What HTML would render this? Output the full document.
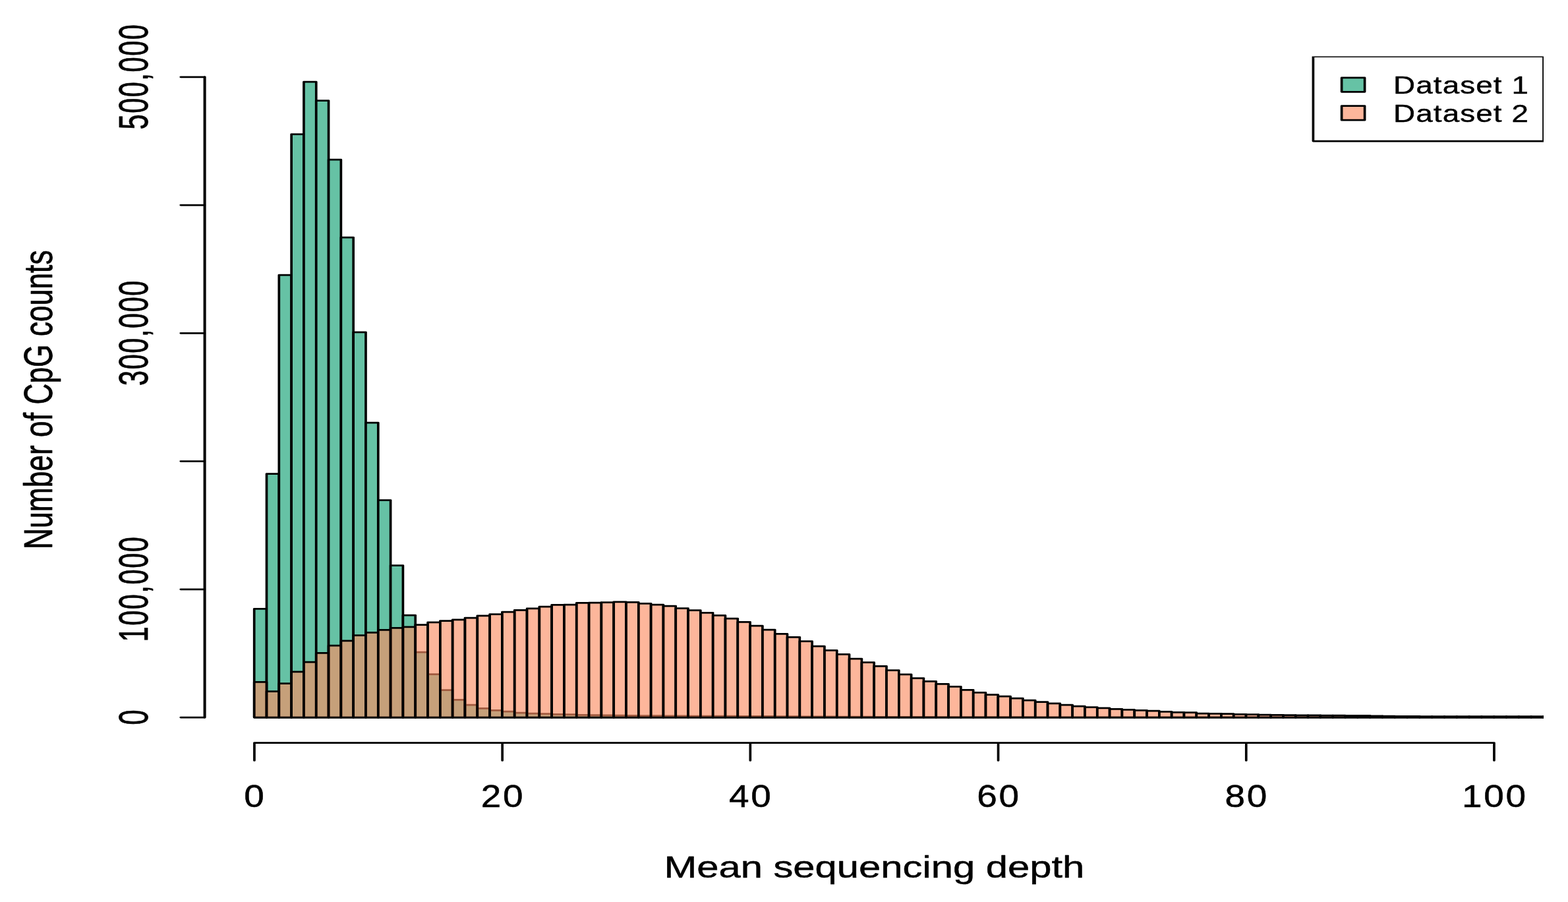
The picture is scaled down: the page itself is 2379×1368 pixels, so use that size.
<!DOCTYPE html>
<html lang="en"><head><meta charset="utf-8">
<title>Mean sequencing depth histogram</title>
<style>
html,body{margin:0;padding:0;background:#fff;}
body{width:2379px;height:1368px;overflow:hidden;}
svg{display:block;filter:blur(0.35px);}
text{font-family:"Liberation Sans",Arial,Helvetica,sans-serif;font-size:48px;fill:#000;stroke:#000;stroke-width:0.5px;stroke-linejoin:round;}
text.v{stroke-width:0.6px;}
text.l{stroke-width:0.55px;}
.ln{fill:none;stroke:#000;stroke-width:2.75;stroke-linecap:round;stroke-linejoin:round;}
.g rect{fill:#66C2A5;stroke:#000;stroke-width:2.75;stroke-linejoin:round;}
.o rect{fill:#FC8D62;fill-opacity:0.64;stroke:#000;stroke-width:2.75;stroke-linejoin:round;}
</style></head><body>
<svg width="2379" height="1368" viewBox="0 0 2379 1368" role="img" aria-label="Histogram of mean sequencing depth for Dataset 1 and Dataset 2">
<rect width="2379" height="1368" fill="#fff"/>
<defs><clipPath id="plot"><rect x="231.64" y="85.5" width="1516.12" height="1041"/></clipPath></defs>
<g transform="scale(1.34,1)">
<g class="g" clip-path="url(#plot)">
<rect x="287.84" y="923.4" width="14.04" height="164.6"/>
<rect x="301.87" y="718.5" width="14.04" height="369.5"/>
<rect x="315.91" y="417.2" width="14.04" height="670.8"/>
<rect x="329.95" y="203.5" width="14.04" height="884.5"/>
<rect x="343.99" y="124.2" width="14.04" height="963.8"/>
<rect x="358.02" y="152.5" width="14.04" height="935.5"/>
<rect x="372.06" y="242.2" width="14.04" height="845.8"/>
<rect x="386.1" y="360" width="14.04" height="728"/>
<rect x="400.13" y="503.8" width="14.04" height="584.2"/>
<rect x="414.17" y="641.1" width="14.04" height="446.9"/>
<rect x="428.21" y="758.6" width="14.04" height="329.4"/>
<rect x="442.25" y="857.6" width="14.04" height="230.4"/>
<rect x="456.28" y="933" width="14.04" height="155"/>
<rect x="470.32" y="989.1" width="14.04" height="98.9"/>
<rect x="484.36" y="1022.5" width="14.04" height="65.5"/>
<rect x="498.4" y="1046.7" width="14.04" height="41.3"/>
<rect x="512.43" y="1061.4" width="14.04" height="26.6"/>
<rect x="526.47" y="1069.1" width="14.04" height="18.9"/>
<rect x="540.51" y="1074.4" width="14.04" height="13.6"/>
<rect x="554.54" y="1077.3" width="14.04" height="10.7"/>
<rect x="568.58" y="1079.2" width="14.04" height="8.8"/>
<rect x="582.62" y="1081.1" width="14.04" height="6.9"/>
<rect x="596.66" y="1082" width="14.04" height="6"/>
<rect x="610.69" y="1082.6" width="14.04" height="5.4"/>
<rect x="624.73" y="1083.3" width="14.04" height="4.7"/>
<rect x="638.77" y="1083.6" width="14.04" height="4.4"/>
<rect x="652.81" y="1084.3" width="14.04" height="3.7"/>
<rect x="666.84" y="1084.6" width="14.04" height="3.4"/>
<rect x="680.88" y="1084.9" width="14.04" height="3.1"/>
<rect x="694.92" y="1085.1" width="14.04" height="2.9"/>
<rect x="708.96" y="1085.3" width="14.04" height="2.7"/>
<rect x="722.99" y="1085.5" width="14.04" height="2.5"/>
<rect x="737.03" y="1085.65" width="14.04" height="2.35"/>
<rect x="751.07" y="1085.8" width="14.04" height="2.2"/>
<rect x="765.1" y="1085.9" width="14.04" height="2.1"/>
<rect x="779.14" y="1086" width="14.04" height="2"/>
<rect x="793.18" y="1086.1" width="14.04" height="1.9"/>
<rect x="807.22" y="1086.15" width="14.04" height="1.85"/>
<rect x="821.25" y="1086.2" width="14.04" height="1.8"/>
<rect x="835.29" y="1086.25" width="14.04" height="1.75"/>
<rect x="849.33" y="1086.3" width="14.04" height="1.7"/>
<rect x="863.37" y="1086.44" width="14.04" height="1.56"/>
<rect x="877.4" y="1086.56" width="14.04" height="1.44"/>
<rect x="891.44" y="1086.68" width="14.04" height="1.32"/>
<rect x="905.48" y="1086.78" width="14.04" height="1.22"/>
<rect x="919.51" y="1086.88" width="14.04" height="1.12"/>
<rect x="933.55" y="1086.97" width="14.04" height="1.03"/>
<rect x="947.59" y="1087.05" width="14.04" height="0.95"/>
<rect x="961.63" y="1087.13" width="14.04" height="0.87"/>
<rect x="975.66" y="1087.2" width="14.04" height="0.8"/>
<rect x="989.7" y="1087.26" width="14.04" height="0.74"/>
<rect x="1003.74" y="1087.32" width="14.04" height="0.68"/>
<rect x="1017.78" y="1087.37" width="14.04" height="0.63"/>
<rect x="1031.81" y="1087.42" width="14.04" height="0.58"/>
<rect x="1045.85" y="1087.47" width="14.04" height="0.53"/>
<rect x="1059.89" y="1087.51" width="14.04" height="0.49"/>
<rect x="1073.93" y="1087.55" width="14.04" height="0.45"/>
<rect x="1087.96" y="1087.59" width="14.04" height="0.41"/>
<rect x="1102" y="1087.62" width="14.04" height="0.38"/>
<rect x="1116.04" y="1087.65" width="14.04" height="0.35"/>
<rect x="1130.07" y="1087.68" width="14.04" height="0.32"/>
<rect x="1144.11" y="1087.7" width="14.04" height="0.3"/>
<rect x="1158.15" y="1087.73" width="14.04" height="0.27"/>
<rect x="1172.19" y="1087.75" width="14.04" height="0.25"/>
<rect x="1186.22" y="1087.77" width="14.04" height="0.23"/>
<rect x="1200.26" y="1087.79" width="14.04" height="0.21"/>
<rect x="1214.3" y="1087.81" width="14.04" height="0.19"/>
<rect x="1228.34" y="1087.82" width="14.04" height="0.18"/>
<rect x="1242.37" y="1087.84" width="14.04" height="0.16"/>
<rect x="1256.41" y="1087.85" width="14.04" height="0.15"/>
<rect x="1270.45" y="1087.85" width="14.04" height="0.15"/>
<rect x="1284.49" y="1087.85" width="14.04" height="0.15"/>
<rect x="1298.52" y="1087.85" width="14.04" height="0.15"/>
<rect x="1312.56" y="1087.85" width="14.04" height="0.15"/>
<rect x="1326.6" y="1087.85" width="14.04" height="0.15"/>
<rect x="1340.63" y="1087.85" width="14.04" height="0.15"/>
<rect x="1354.67" y="1087.85" width="14.04" height="0.15"/>
<rect x="1368.71" y="1087.85" width="14.04" height="0.15"/>
<rect x="1382.75" y="1087.85" width="14.04" height="0.15"/>
<rect x="1396.78" y="1087.85" width="14.04" height="0.15"/>
<rect x="1410.82" y="1087.85" width="14.04" height="0.15"/>
<rect x="1424.86" y="1087.85" width="14.04" height="0.15"/>
<rect x="1438.9" y="1087.85" width="14.04" height="0.15"/>
<rect x="1452.93" y="1087.85" width="14.04" height="0.15"/>
<rect x="1466.97" y="1087.85" width="14.04" height="0.15"/>
<rect x="1481.01" y="1087.85" width="14.04" height="0.15"/>
<rect x="1495.04" y="1087.85" width="14.04" height="0.15"/>
<rect x="1509.08" y="1087.85" width="14.04" height="0.15"/>
<rect x="1523.12" y="1087.85" width="14.04" height="0.15"/>
<rect x="1537.16" y="1087.85" width="14.04" height="0.15"/>
<rect x="1551.19" y="1087.85" width="14.04" height="0.15"/>
<rect x="1565.23" y="1087.85" width="14.04" height="0.15"/>
<rect x="1579.27" y="1087.85" width="14.04" height="0.15"/>
<rect x="1593.31" y="1087.85" width="14.04" height="0.15"/>
<rect x="1607.34" y="1087.85" width="14.04" height="0.15"/>
<rect x="1621.38" y="1087.85" width="14.04" height="0.15"/>
<rect x="1635.42" y="1087.85" width="14.04" height="0.15"/>
<rect x="1649.46" y="1087.85" width="14.04" height="0.15"/>
<rect x="1663.49" y="1087.85" width="14.04" height="0.15"/>
<rect x="1677.53" y="1087.85" width="14.04" height="0.15"/>
<rect x="1691.57" y="1087.85" width="14.04" height="0.15"/>
<rect x="1705.6" y="1087.85" width="14.04" height="0.15"/>
<rect x="1719.64" y="1087.85" width="14.04" height="0.15"/>
<rect x="1733.68" y="1087.85" width="14.04" height="0.15"/>
<rect x="1747.72" y="1087.85" width="14.04" height="0.15"/>
</g>
<g class="o" clip-path="url(#plot)">
<rect x="287.84" y="1034.4" width="14.04" height="53.6"/>
<rect x="301.87" y="1048.5" width="14.04" height="39.5"/>
<rect x="315.91" y="1036.6" width="14.04" height="51.4"/>
<rect x="329.95" y="1018.9" width="14.04" height="69.1"/>
<rect x="343.99" y="1004" width="14.04" height="84"/>
<rect x="358.02" y="990.4" width="14.04" height="97.6"/>
<rect x="372.06" y="979.2" width="14.04" height="108.8"/>
<rect x="386.1" y="971.9" width="14.04" height="116.1"/>
<rect x="400.13" y="963.6" width="14.04" height="124.4"/>
<rect x="414.17" y="959.4" width="14.04" height="128.6"/>
<rect x="428.21" y="955.3" width="14.04" height="132.7"/>
<rect x="442.25" y="952.3" width="14.04" height="135.7"/>
<rect x="456.28" y="950.9" width="14.04" height="137.1"/>
<rect x="470.32" y="947.5" width="14.04" height="140.5"/>
<rect x="484.36" y="943.9" width="14.04" height="144.1"/>
<rect x="498.4" y="941.6" width="14.04" height="146.4"/>
<rect x="512.43" y="939.9" width="14.04" height="148.1"/>
<rect x="526.47" y="937" width="14.04" height="151"/>
<rect x="540.51" y="933.8" width="14.04" height="154.2"/>
<rect x="554.54" y="931.6" width="14.04" height="156.4"/>
<rect x="568.58" y="928.2" width="14.04" height="159.8"/>
<rect x="582.62" y="925.3" width="14.04" height="162.7"/>
<rect x="596.66" y="922.9" width="14.04" height="165.1"/>
<rect x="610.69" y="920.1" width="14.04" height="167.9"/>
<rect x="624.73" y="917.3" width="14.04" height="170.7"/>
<rect x="638.77" y="917.1" width="14.04" height="170.9"/>
<rect x="652.81" y="914.3" width="14.04" height="173.7"/>
<rect x="666.84" y="914" width="14.04" height="174"/>
<rect x="680.88" y="913.7" width="14.04" height="174.3"/>
<rect x="694.92" y="912.9" width="14.04" height="175.1"/>
<rect x="708.96" y="913.3" width="14.04" height="174.7"/>
<rect x="722.99" y="915.3" width="14.04" height="172.7"/>
<rect x="737.03" y="917.2" width="14.04" height="170.8"/>
<rect x="751.07" y="919.1" width="14.04" height="168.9"/>
<rect x="765.1" y="922.6" width="14.04" height="165.4"/>
<rect x="779.14" y="925.7" width="14.04" height="162.3"/>
<rect x="793.18" y="929.4" width="14.04" height="158.6"/>
<rect x="807.22" y="933.4" width="14.04" height="154.6"/>
<rect x="821.25" y="938.2" width="14.04" height="149.8"/>
<rect x="835.29" y="943.3" width="14.04" height="144.7"/>
<rect x="849.33" y="949.2" width="14.04" height="138.8"/>
<rect x="863.37" y="955.1" width="14.04" height="132.9"/>
<rect x="877.4" y="961.4" width="14.04" height="126.6"/>
<rect x="891.44" y="966.3" width="14.04" height="121.7"/>
<rect x="905.48" y="972.5" width="14.04" height="115.5"/>
<rect x="919.51" y="980.2" width="14.04" height="107.8"/>
<rect x="933.55" y="986.4" width="14.04" height="101.6"/>
<rect x="947.59" y="992.4" width="14.04" height="95.6"/>
<rect x="961.63" y="999.1" width="14.04" height="88.9"/>
<rect x="975.66" y="1004.7" width="14.04" height="83.3"/>
<rect x="989.7" y="1010.3" width="14.04" height="77.7"/>
<rect x="1003.74" y="1016.6" width="14.04" height="71.4"/>
<rect x="1017.78" y="1022.8" width="14.04" height="65.2"/>
<rect x="1031.81" y="1028.5" width="14.04" height="59.5"/>
<rect x="1045.85" y="1033.4" width="14.04" height="54.6"/>
<rect x="1059.89" y="1037.4" width="14.04" height="50.6"/>
<rect x="1073.93" y="1041.3" width="14.04" height="46.7"/>
<rect x="1087.96" y="1046.3" width="14.04" height="41.7"/>
<rect x="1102" y="1050.3" width="14.04" height="37.7"/>
<rect x="1116.04" y="1053.6" width="14.04" height="34.4"/>
<rect x="1130.07" y="1056.2" width="14.04" height="31.8"/>
<rect x="1144.11" y="1059" width="14.04" height="29"/>
<rect x="1158.15" y="1062" width="14.04" height="26"/>
<rect x="1172.19" y="1064.7" width="14.04" height="23.3"/>
<rect x="1186.22" y="1066.9" width="14.04" height="21.1"/>
<rect x="1200.26" y="1069.2" width="14.04" height="18.8"/>
<rect x="1214.3" y="1071.1" width="14.04" height="16.9"/>
<rect x="1228.34" y="1072.6" width="14.04" height="15.4"/>
<rect x="1242.37" y="1073.9" width="14.04" height="14.1"/>
<rect x="1256.41" y="1075.3" width="14.04" height="12.7"/>
<rect x="1270.45" y="1076.4" width="14.04" height="11.6"/>
<rect x="1284.49" y="1077.3" width="14.04" height="10.7"/>
<rect x="1298.52" y="1078.2" width="14.04" height="9.8"/>
<rect x="1312.56" y="1079.3" width="14.04" height="8.7"/>
<rect x="1326.6" y="1080.4" width="14.04" height="7.6"/>
<rect x="1340.63" y="1080.7" width="14.04" height="7.3"/>
<rect x="1354.67" y="1082" width="14.04" height="6"/>
<rect x="1368.71" y="1082.4" width="14.04" height="5.6"/>
<rect x="1382.75" y="1082.7" width="14.04" height="5.3"/>
<rect x="1396.78" y="1083.3" width="14.04" height="4.7"/>
<rect x="1410.82" y="1083.5" width="14.04" height="4.5"/>
<rect x="1424.86" y="1084" width="14.04" height="4"/>
<rect x="1438.9" y="1084.3" width="14.04" height="3.7"/>
<rect x="1452.93" y="1084.7" width="14.04" height="3.3"/>
<rect x="1466.97" y="1084.8" width="14.04" height="3.2"/>
<rect x="1481.01" y="1084.9" width="14.04" height="3.1"/>
<rect x="1495.04" y="1085" width="14.04" height="3"/>
<rect x="1509.08" y="1085.1" width="14.04" height="2.9"/>
<rect x="1523.12" y="1085.25" width="14.04" height="2.75"/>
<rect x="1537.16" y="1085.45" width="14.04" height="2.55"/>
<rect x="1551.19" y="1085.85" width="14.04" height="2.15"/>
<rect x="1565.23" y="1086.1" width="14.04" height="1.9"/>
<rect x="1579.27" y="1086.3" width="14.04" height="1.7"/>
<rect x="1593.31" y="1086.45" width="14.04" height="1.55"/>
<rect x="1607.34" y="1086.5" width="14.04" height="1.5"/>
<rect x="1621.38" y="1086.5" width="14.04" height="1.5"/>
<rect x="1635.42" y="1086.55" width="14.04" height="1.45"/>
<rect x="1649.46" y="1086.55" width="14.04" height="1.45"/>
<rect x="1663.49" y="1086.55" width="14.04" height="1.45"/>
<rect x="1677.53" y="1086.55" width="14.04" height="1.45"/>
<rect x="1691.57" y="1086.55" width="14.04" height="1.45"/>
<rect x="1705.6" y="1086.55" width="14.04" height="1.45"/>
<rect x="1719.64" y="1086.55" width="14.04" height="1.45"/>
<rect x="1733.68" y="1086.55" width="14.04" height="1.45"/>
<rect x="1747.72" y="1086.55" width="14.04" height="1.45"/>
</g>
<path class="ln" d="M288.02 1126.5H1691.75M288.02 1126.5v26.9M568.77 1126.5v26.9M849.51 1126.5v26.9M1130.26 1126.5v26.9M1411.01 1126.5v26.9M1691.75 1126.5v26.9"/>
<path class="ln" style="stroke-width:3.03" d="M231.79 1088V116.75"/>
<path class="ln" d="M231.64 1088h-27.01M231.64 893.75h-27.01M231.64 699.5h-27.01M231.64 505.25h-27.01M231.64 311h-27.01M231.64 116.75h-27.01"/>
<g clip-path="url(#plot)">
<rect class="ln" x="1486.87" y="85.5" width="260.9" height="128.5" fill="#fff" style="fill:#fff"/>
</g>
<g class="g"><rect x="1519.1" y="117.9" width="26.12" height="21.4"/></g>
<g class="o"><rect x="1519.1" y="160.7" width="26.12" height="21.5"/></g>
</g>
<text letter-spacing="2.3" dx="1.15" transform="translate(385.55,1223.5) scale(1.1454,0.9850)" text-anchor="middle">0</text>
<text letter-spacing="2.3" dx="1.15" transform="translate(761.75,1223.5) scale(1.1454,0.9850)" text-anchor="middle">20</text>
<text letter-spacing="2.3" dx="1.15" transform="translate(1137.95,1223.5) scale(1.1454,0.9850)" text-anchor="middle">40</text>
<text letter-spacing="2.3" dx="1.15" transform="translate(1514.15,1223.5) scale(1.1454,0.9850)" text-anchor="middle">60</text>
<text letter-spacing="2.3" dx="1.15" transform="translate(1890.35,1223.5) scale(1.1454,0.9850)" text-anchor="middle">80</text>
<text letter-spacing="2.3" dx="1.15" transform="translate(2266.55,1223.5) scale(1.1454,0.9850)" text-anchor="middle">100</text>
<text transform="translate(1326.35,1330.9) scale(1.2450,0.9600)" text-anchor="middle">Mean sequencing depth</text>
<text class="v" letter-spacing="1.7" dx="0.85" transform="translate(224.4,1088) rotate(-90) scale(0.8686,1.3000)" text-anchor="middle">0</text>
<text class="v" letter-spacing="1.7" dx="0.85" transform="translate(224.4,893.75) rotate(-90) scale(0.8686,1.3000)" text-anchor="middle">100,000</text>
<text class="v" letter-spacing="1.7" dx="0.85" transform="translate(224.4,505.25) rotate(-90) scale(0.8686,1.3000)" text-anchor="middle">300,000</text>
<text class="v" letter-spacing="1.7" dx="0.85" transform="translate(224.4,116.75) rotate(-90) scale(0.8686,1.3000)" text-anchor="middle">500,000</text>
<text class="v" transform="translate(78.7,606.2) rotate(-90) scale(0.9240,1.2800)" text-anchor="middle">Number of CpG counts</text>
<text class="l" letter-spacing="1.2" transform="translate(2114,141.7) scale(0.9538,0.7680)" text-anchor="start">Dataset 1</text>
<text class="l" letter-spacing="1.2" transform="translate(2114,184.5) scale(0.9538,0.7680)" text-anchor="start">Dataset 2</text>
</svg>
</body></html>
